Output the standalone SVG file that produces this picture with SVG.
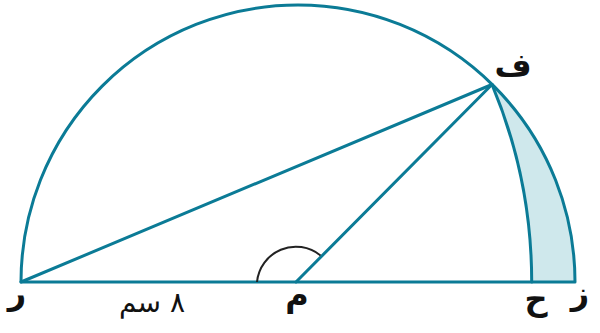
<svg xmlns="http://www.w3.org/2000/svg" width="600" height="333" viewBox="0 0 600 333">
<style>
.ln{fill:none;stroke:#0b7b96;stroke-width:3;stroke-linejoin:round;stroke-linecap:round}
.lb{font-family:"DejaVu Sans",sans-serif;font-size:32px;font-weight:bold;fill:#111;text-anchor:middle}
.lt{font-family:"DejaVu Sans",sans-serif;font-size:28px;fill:#111;text-anchor:middle}
</style>
<rect width="600" height="333" fill="#fff"/>
<g id="shade">
<path d="M492,84.5 A277,277 0 0 1 575,282 L531.7,282 A510.7,510.7 0 0 0 492,84.5 Z" fill="#cfe8ec"/>
</g>
<g id="connectors">
<path class="ln" d="M21,282 A277,277 0 0 1 575,282 Z"/>
<path class="ln" d="M492,84.5 A510.7,510.7 0 0 1 531.7,282"/>
<line class="ln" x1="21" y1="282" x2="492" y2="84.5"/>
<line class="ln" x1="296" y1="282" x2="492" y2="84.5"/>
<path d="M257,282 A39,39 0 0 1 320.5,255.5" fill="none" stroke="#222" stroke-width="2"/>
</g>
<g id="f"><text class="lb" x="513" y="76">ف</text></g>
<g id="r"><text class="lb" x="17" y="304">ر</text></g>
<g id="m"><text class="lb" x="297" y="306">م</text></g>
<g id="h"><text class="lb" x="536" y="310">ح</text></g>
<g id="z"><text class="lb" x="580" y="304">ز</text></g>
<g id="len"><text class="lt" x="152" y="312">٨ سم</text></g>
</svg>
